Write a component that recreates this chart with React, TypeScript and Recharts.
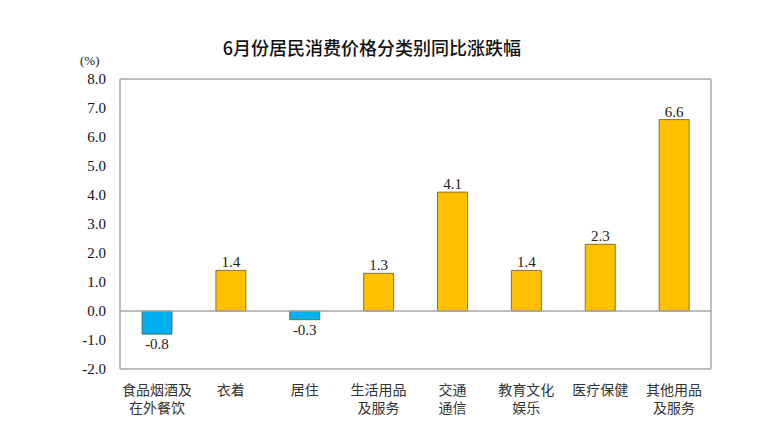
import React from "react";
import { BarChart, Bar, XAxis, YAxis, Cell, LabelList, ReferenceLine } from "recharts";

const categories = ["食品烟酒及\n在外餐饮", "衣着", "居住", "生活用品\n及服务", "交通\n通信", "教育文化\n娱乐", "医疗保健", "其他用品\n及服务"];
const values = [-0.8, 1.4, -0.3, 1.3, 4.1, 1.4, 2.3, 6.6];
const yTicks = [-2, -1, 0, 1, 2, 3, 4, 5, 6, 7, 8];
const title = "6月份居民消费价格分类别同比涨跌幅";
const unit = "(%)";

const data = categories.map((c, i) => ({ name: c, value: values[i] }));

const CJK = '"Noto Sans CJK SC", "Noto Sans", sans-serif';
const SERIF = '"Liberation Serif", "Times New Roman", serif';

const CatTick = (props: any) => {
  const { x, y, payload } = props;
  const lines = String(payload.value).split("\n");
  return (
    <text x={x} y={y} textAnchor="middle" fontFamily={CJK} fontSize={14} fill="#333">
      {lines.map((l, i) => (
        <tspan key={i} x={x} dy={i === 0 ? 18 : 18}>
          {l}
        </tspan>
      ))}
    </text>
  );
};

const ValueLabel = (props: any) => {
  const { x, y, width, height, value } = props;
  const cx = x + width / 2;
  const neg = value < 0;
  const top = Math.min(y, y + height);
  const bottom = Math.max(y, y + height);
  const ty = neg ? bottom + 15 : top - 3;
  return (
    <text x={cx} y={ty} textAnchor="middle" fontFamily={SERIF} fontSize={15} fill="#222">
      {value.toFixed(1)}
    </text>
  );
};

export default function App() {
  return (
    <div style={{ position: "absolute", left: 0, top: 0, width: 777, height: 447, background: "#fff" }}>
      <div
        style={{
          position: "absolute",
          left: 0,
          width: 744,
          top: 35,
          textAlign: "center",
          fontFamily: CJK,
          fontSize: 18,
          fontWeight: 500,
          lineHeight: "24px",
          color: "#111",
        }}
      >
        {title}
      </div>
      <div
        style={{
          position: "absolute",
          left: 80,
          top: 52,
          fontFamily: SERIF,
          fontSize: 13,
          lineHeight: "18px",
          color: "#111",
        }}
      >
        {unit}
      </div>
      <BarChart
        width={777}
        height={447}
        data={data}
        margin={{ top: 78, right: 65, bottom: 18, left: 60 }}
        barSize={30}
      >
        <XAxis
          dataKey="name"
          xAxisId="b"
          axisLine={{ stroke: "#a6a6a6", strokeWidth: 1.5 }}
          tickLine={false}
          tick={<CatTick />}
          interval={0}
          height={60}
        />
        <XAxis
          dataKey="name"
          xAxisId="t"
          orientation="top"
          axisLine={{ stroke: "#a6a6a6", strokeWidth: 1.5 }}
          tickLine={false}
          tick={false}
          height={1}
        />
        <YAxis
          yAxisId="l"
          domain={[-2, 8]}
          ticks={yTicks}
          tickFormatter={(v: number) => v.toFixed(1)}
          axisLine={{ stroke: "#a6a6a6", strokeWidth: 1.5 }}
          tickLine={false}
          tickSize={0}
          tickMargin={14}
          tick={{ fontFamily: SERIF, fontSize: 15, fill: "#111" }}
          width={60}
          interval={0}
        />
        <YAxis
          yAxisId="r"
          orientation="right"
          domain={[-2, 8]}
          axisLine={{ stroke: "#a6a6a6", strokeWidth: 1.5 }}
          tickLine={false}
          tick={false}
          width={1}
        />
        <ReferenceLine y={0} xAxisId="b" yAxisId="l" stroke="#a6a6a6" strokeWidth={1.5} />
        <Bar dataKey="value" xAxisId="b" yAxisId="l" isAnimationActive={false} stroke="#6b5a20" strokeWidth={0.8}>
          {data.map((d, i) => (
            <Cell key={i} fill={d.value < 0 ? "#00b0f0" : "#ffc000"} />
          ))}
          <LabelList dataKey="value" content={<ValueLabel />} />
        </Bar>
      </BarChart>
    </div>
  );
}
